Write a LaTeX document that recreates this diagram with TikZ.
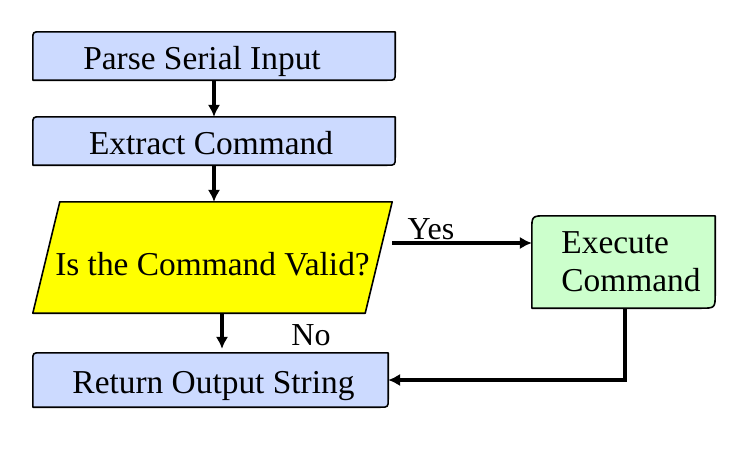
\documentclass[tikz,border=0pt]{standalone}
\usepackage{fontspec}
\setmainfont{Liberation Serif}
\usetikzlibrary{arrows.meta,calc}
\pgfdeclarelayer{bg}
\pgfsetlayers{bg,main}
\definecolor{boxblue}{RGB}{204,218,255}
\definecolor{boxgreen}{RGB}{204,255,204}
\definecolor{decyellow}{RGB}{255,255,0}
\newcommand\bigf{\fontsize{33.4}{38}\selectfont}
\newcommand\drawcutbox[3]{%
  \begin{pgfonlayer}{bg}
  \draw[boxline,fill=#3] (#1.south west) -- ([yshift=-#2pt]#1.north west)
    .. controls (#1.north west) .. ([xshift=#2pt]#1.north west)
    -- (#1.north east) -- ([yshift=#2pt]#1.south east)
    .. controls (#1.south east) .. ([xshift=-#2pt]#1.south east) -- cycle;
  \end{pgfonlayer}}
\tikzset{
  boxline/.style={draw=black,line width=1.6pt,line join=round},
  stepbox/.style={inner sep=0pt,font=\bigf,text height=26pt,text depth=0pt},
  flow/.style={line width=3.5pt,-{Latex[length=12pt,width=12.5pt]}},
  lbl/.style={inner sep=0pt,anchor=base,font=\fontsize{32}{38}\selectfont}
}
\begin{document}
\begin{tikzpicture}[x=1pt,y=-1pt]
\useasboundingbox (0,0) rectangle (740,455);
\node[stepbox,minimum width=362pt,minimum height=48pt] (parse) at (214,56) {Parse Serial Input\hspace*{24pt}};
\node[stepbox,minimum width=362pt,minimum height=48pt] (extract) at (214,141) {Extract Command\hspace*{6pt}};
\node[stepbox,minimum width=359pt,minimum height=111pt,text height=35pt] (valid) at (212.5,257.5) {Is the Command Valid?};
\node[stepbox,minimum width=355pt,minimum height=54pt] (ret) at (210.5,380) {\hspace*{6pt}Return Output String};
\node[inner sep=0pt,font=\bigf,align=left,minimum width=183pt,minimum height=92pt] (exec) at (623.5,262) {\hspace*{15pt}Execute\\\hspace*{15pt}Command};
\drawcutbox{parse}{8}{boxblue}
\drawcutbox{extract}{8}{boxblue}
\drawcutbox{ret}{8}{boxblue}
\drawcutbox{exec}{15}{boxgreen}
\begin{pgfonlayer}{bg}
\draw[boxline,fill=decyellow] ([xshift=27pt]valid.north west) -- (valid.north east)
  -- ([xshift=-27pt]valid.south east) -- (valid.south west) -- cycle;
\end{pgfonlayer}
\draw[flow] (parse.south) -- (extract.north);
\draw[flow] (extract.south) -- (extract.south |- valid.north);
\coordinate (nostart) at ([xshift=9.5pt]valid.south);
\draw[flow,shorten >=4pt] (nostart) -- (nostart |- ret.north);
\coordinate (yesend) at ([yshift=19pt]exec.west);
\draw[flow] (valid.east |- yesend) -- (yesend);
\draw[flow] ([xshift=1.5pt]exec.south) |- (ret.east);
\node[lbl] (yes) at (431,239) {Yes};
\node[lbl] (no) at (311,345) {No};
\end{tikzpicture}
\end{document}
